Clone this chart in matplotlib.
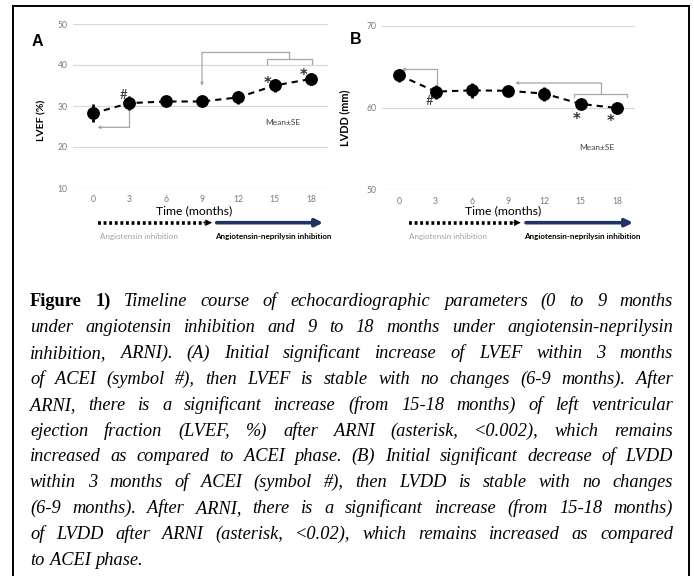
import matplotlib
matplotlib.use("Agg")
import matplotlib.pyplot as plt
from matplotlib.lines import Line2D
from matplotlib.patches import FancyArrowPatch

# ---------------- data ----------------
months = [0, 3, 6, 9, 12, 15, 18]
month_labels = ["0", "3", "6", "9", "12", "15", "18"]

lvef_mean = [28.2, 30.7, 31.1, 31.1, 32.1, 35.0, 36.6]
lvef_se = [2.2, 1.7, 1.1, 1.1, 1.6, 1.5, 1.5]
lvef_ticks = [10, 20, 30, 40, 50]

lvdd_mean = [64.0, 62.0, 62.15, 62.1, 61.75, 60.5, 60.0]
lvdd_se = [0.8, 0.85, 0.9, 0.5, 0.85, 0.6, 0.55]
lvdd_ticks = [50, 60, 70]

caption_lines = [
    "Timeline course of echocardiographic parameters (0 to 9 months",
    "under angiotensin inhibition and 9 to 18 months under angiotensin-neprilysin",
    "inhibition, ARNI). (A) Initial significant increase of LVEF within 3 months",
    "of ACEI (symbol #), then LVEF is stable with no changes (6-9 months). After",
    "ARNI, there is a significant increase (from 15-18 months) of left ventricular",
    "ejection fraction (LVEF, %) after ARNI (asterisk, <0.002), which remains",
    "increased as compared to ACEI phase. (B) Initial significant decrease of LVDD",
    "within 3 months of ACEI (symbol #), then LVDD is stable with no changes",
    "(6-9 months). After ARNI, there is a significant increase (from 15-18 months)",
    "of LVDD after ARNI (asterisk, <0.02), which remains increased as compared",
    "to ACEI phase.",
]

W, H = 694, 576
SANS = ["Lato", "DejaVu Sans"]
GRAY_TXT = "#7a7a7a"
GRID = "#d9d9d9"
BRK = "#a6a6a6"
STAR = ["DejaVu Sans"]


def fx(x):
    return x / W


def fy(y):
    return 1 - y / H


fig = plt.figure(figsize=(W / 100, H / 100), dpi=100)
fig.patch.set_facecolor("white")


def make_axes(rect, xlim, ylim, yticks):
    ax = fig.add_axes(rect)
    ax.set_xlim(*xlim)
    ax.set_ylim(*ylim)
    ax.set_yticks(yticks)
    ax.set_yticklabels([str(t) for t in yticks])
    ax.set_xticks(months)
    ax.set_xticklabels(month_labels)
    for s in ax.spines.values():
        s.set_visible(False)
    ax.grid(axis="y", color=GRID, lw=0.9)
    ax.set_axisbelow(True)
    ax.tick_params(length=0, labelsize=6.2, labelcolor=GRAY_TXT)
    ax.tick_params(axis="y", pad=4)
    ax.tick_params(axis="x", pad=5)
    for lab in ax.get_xticklabels() + ax.get_yticklabels():
        lab.set_family(SANS)
    return ax


def draw_series(ax, mean, se):
    ax.plot(months, mean, ls=(0, (3, 2.4)), color="black", lw=1.5, zorder=3)
    ax.errorbar(months, mean, yerr=se, fmt="o", color="black", ms=8.2,
                elinewidth=2.0, capsize=0, zorder=4)


def seg(ax, xs, ys):
    ax.plot(xs, ys, color=BRK, lw=0.9, clip_on=False, zorder=2)


def arrow(ax, start, tip):
    ax.annotate("", xy=tip, xytext=start, annotation_clip=False,
                arrowprops=dict(arrowstyle="-|>", color=BRK, lw=0.9,
                                mutation_scale=4, shrinkA=0, shrinkB=0))


def star(ax, x, y):
    ax.text(x, y, "*", ha="center", va="center", fontsize=10.5, weight="bold",
            color="#333333", family=STAR)


# ---------------- panel A ----------------
axA = make_axes([fx(73), fy(188), (328 - 73) / W, (188 - 24) / H],
                (-1.65, 19.4), (10, 50), lvef_ticks)
draw_series(axA, lvef_mean, lvef_se)
seg(axA, [3, 3], [28.8, 24.8])
arrow(axA, (3, 24.8), (0.36, 24.8))
arrow(axA, (9, 43.1), (9, 34.9))
seg(axA, [9, 16.2], [43.1, 43.1])
seg(axA, [16.2, 16.2], [43.1, 41.4])
seg(axA, [14.4, 14.4, 18.1, 18.1], [40.2, 41.4, 41.4, 40.2])
axA.text(2.5, 32.6, "#", ha="center", va="center", fontsize=9.5, color="#333333",
         family=SANS)
star(axA, 14.4, 35.4)
star(axA, 17.4, 37.4)
axA.text(15.7, 25.9, "Mean±SE", ha="center", va="center", fontsize=6,
         color="#404040", family=SANS)

# ---------------- panel B ----------------
axB = make_axes([fx(381.7), fy(190), (635 - 381.7) / W, (190 - 26) / H],
                (-1.46, 19.5), (50, 70), lvdd_ticks)
draw_series(axB, lvdd_mean, lvdd_se)
arrow(axB, (3.1, 64.7), (0.2, 64.7))
seg(axB, [3.1, 3.1], [64.7, 62.9])
arrow(axB, (16.67, 63.05), (9.58, 63.05))
seg(axB, [16.67, 16.67], [63.05, 61.75])
seg(axB, [14.46, 14.46, 18.82, 18.82], [61.35, 61.75, 61.75, 61.35])
axB.text(2.48, 60.8, "#", ha="center", va="center", fontsize=9.5, color="#333333",
         family=SANS)
star(axB, 14.7, 58.6)
star(axB, 17.5, 58.4)
axB.text(16.3, 55.2, "Mean±SE", ha="center", va="center", fontsize=6,
         color="#404040", family=SANS)

# ---------------- labels ----------------
fig.text(fx(37), fy(41), "A", ha="center", va="center", fontsize=11.5,
         weight="bold", family=["Liberation Sans", "DejaVu Sans"])
fig.text(fx(356), fy(40), "B", ha="center", va="center", fontsize=11.5,
         weight="bold", family=["Liberation Sans", "DejaVu Sans"])
fig.text(fx(42), fy(120), "LVEF (%)", rotation=90, ha="center", va="center",
         fontsize=7.5, weight="bold", family=SANS)
fig.text(fx(345), fy(118), "LVDD (mm)", rotation=90, ha="center", va="center",
         fontsize=7.8, weight="bold", family=SANS)


def timeline(xt, x_dot0, x_dot1, x_sol0, x_sol1, xg, xb):
    y = 222.7
    fig.text(fx(xt), fy(211), "Time (months)", ha="center", va="center",
             fontsize=8.8, family=SANS)
    fig.add_artist(Line2D([fx(x_dot0), fx(x_dot1 - 7)], [fy(y), fy(y)],
                          transform=fig.transFigure, color="black", lw=2.6,
                          ls=(0, (0.8, 0.75)), solid_capstyle="butt",
                          dash_capstyle="butt"))
    fig.add_artist(FancyArrowPatch((fx(x_dot1 - 9), fy(y)), (fx(x_dot1), fy(y)),
                                   transform=fig.transFigure, arrowstyle="-|>",
                                   mutation_scale=10, color="black", lw=0.5,
                                   shrinkA=0, shrinkB=0))
    fig.add_artist(FancyArrowPatch((fx(x_sol0), fy(y)), (fx(x_sol1), fy(y)),
                                   transform=fig.transFigure, arrowstyle="-|>",
                                   mutation_scale=11, color="#1f3366", lw=2.6,
                                   shrinkA=0, shrinkB=0))
    fig.text(fx(xg), fy(236.7), "Angiotensin inhibition", ha="center",
             va="center", fontsize=5.8, color="#a0a0a0", family=SANS)
    fig.text(fx(xb), fy(236.7), "Angiotensin-neprilysin inhibition",
             ha="center", va="center", fontsize=5.8, weight="bold",
             color="black", family=SANS)


timeline(194, 98, 212, 216.7, 323, 138.5, 273)
timeline(503, 409, 520.7, 526, 633, 448, 582)

# ---------------- border ----------------
for xs, ys in [([13, 13], [6, 580]), ([13, 689], [6, 6]), ([689, 689], [6, 580])]:
    fig.add_artist(Line2D([fx(x) for x in xs], [fy(y) for y in ys],
                          transform=fig.transFigure, color="black", lw=1.4))

# ---------------- caption (justified) ----------------
SERIF = ["Liberation Serif", "DejaVu Serif"]
renderer = fig.canvas.get_renderer()
x0, x1 = 30, 673
lead = ("Figure 1)", "normal", "bold")

test = []
for i, ln in enumerate(caption_lines):
    s = (lead[0] + " " + ln) if i == 0 else ln
    test.append(fig.text(0, 0, s, fontsize=10, style="italic", family=SERIF))
maxw = max(t.get_window_extent(renderer).width for t in test)
for t in test:
    t.remove()
fs = min(13.2, 10 * (x1 - x0) * 0.97 / maxw)

for i, ln in enumerate(caption_lines):
    yb = 301 + 25.9 * i + 5
    tokens = [(w, "italic", "normal") for w in ln.split(" ")]
    if i == 0:
        tokens = [("Figure", "normal", "bold"), ("1)", "normal", "bold")] + tokens
    arts = [fig.text(0, fy(yb), w, fontsize=fs, style=st, weight=wt,
                     family=SERIF, va="baseline", ha="left")
            for w, st, wt in tokens]
    widths = [a.get_window_extent(renderer).width for a in arts]
    last = i == len(caption_lines) - 1
    if last or len(arts) == 1:
        gap = fs * 100 / 72 * 0.28
    else:
        gap = (x1 - x0 - sum(widths)) / (len(arts) - 1)
    x = x0
    for a, w in zip(arts, widths):
        a.set_x(fx(x))
        x += w + gap

fig.savefig("out.png", dpi=100, facecolor="white")
